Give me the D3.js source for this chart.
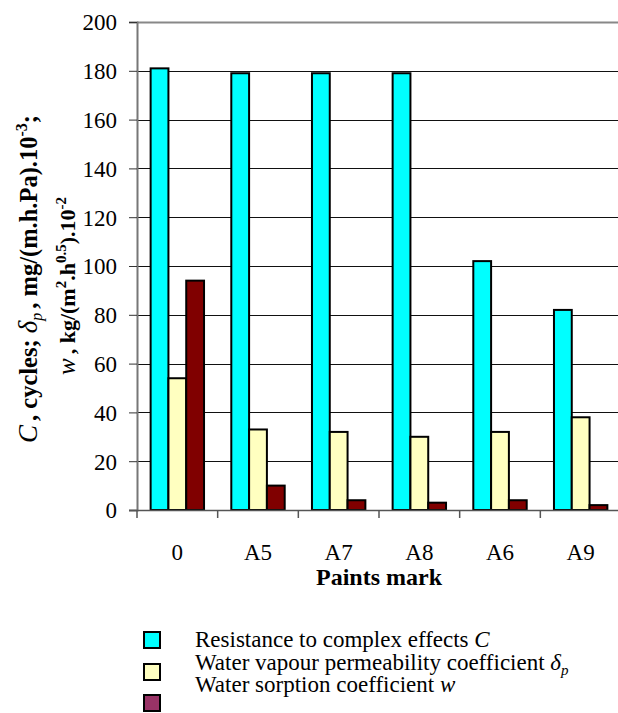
<!DOCTYPE html>
<html>
<head>
<meta charset="utf-8">
<script src="https://cdn.jsdelivr.net/npm/d3@7"></script>
<style>
  body { margin: 0; background: #fff; }
  text { font-family: "Liberation Serif", "Times New Roman", serif; fill: #000; }
</style>
</head>
<body>
<div id="chart"></div>
<script>
var categories = ["0", "A5", "A7", "A8", "A6", "A9"];
var resistance = [181, 179, 179, 179, 102, 82];
var permeability = [54, 33, 32, 30, 32, 38];
var sorption = [94, 10, 4, 3, 4, 2];
var yTicks = [0, 20, 40, 60, 80, 100, 120, 140, 160, 180, 200];
var seriesNames = ["Resistance to complex effects ", "Water vapour permeability coefficient ", "Water sorption coefficient "];

var width = 618;
var height = 713;
var plotLeft = 137, plotRight = 621, plotTop = 22, plotBottom = 510;

var barColors = ["#00ffff", "#ffffc0", "#800000"];
var legendColors = ["#00ffff", "#ffffc0", "#993366"];

var svg = d3.select("#chart")
  .append("svg")
  .attr("width", width)
  .attr("height", height);

var x0 = d3.scaleBand()
  .domain(categories)
  .range([plotLeft, plotRight])
  .paddingInner(0.338)
  .paddingOuter(0.169);

var x1 = d3.scaleBand()
  .domain([0, 1, 2])
  .range([0, x0.bandwidth()]);

var y = d3.scaleLinear()
  .domain([0, 200])
  .range([plotBottom, plotTop]);

// grid lines
svg.append("g")
  .selectAll("line")
  .data(yTicks.filter(d => d > 0))
  .enter()
  .append("line")
  .attr("x1", plotLeft)
  .attr("x2", plotRight)
  .attr("y1", d => Math.round(y(d)) + 0.5)
  .attr("y2", d => Math.round(y(d)) + 0.5)
  .attr("stroke", d => d == 200 ? "#888" : "#111")
  .attr("stroke-width", d => d == 200 ? 2 : 1);

// bars
var rows = categories.map((c, i) => ({cat: c, vals: [resistance[i], permeability[i], sorption[i]]}));

var groups = svg.append("g")
  .selectAll("g")
  .data(rows)
  .enter()
  .append("g")
  .attr("transform", d => "translate(" + x0(d.cat) + ",0)");

groups.selectAll("rect")
  .data(d => d.vals.map((v, k) => ({k: k, v: v})))
  .enter()
  .append("rect")
  .attr("x", d => x1(d.k))
  .attr("y", d => y(d.v))
  .attr("width", x1.bandwidth())
  .attr("height", d => y(0) - y(d.v))
  .attr("fill", d => barColors[d.k])
  .attr("stroke", "#000")
  .attr("stroke-width", 2);

// y axis
var yAxis = svg.append("g")
  .attr("transform", "translate(" + plotLeft + ",0)")
  .call(d3.axisLeft(y).tickValues(yTicks).tickSize(8).tickPadding(12));
yAxis.select(".domain").attr("stroke", "#777").attr("stroke-width", 2);
yAxis.selectAll(".tick line").attr("stroke", "#333");
yAxis.selectAll("text")
  .attr("dy", "0.34em")
  .style("font-family", "Liberation Serif")
  .style("font-size", "23px");

// x axis
svg.append("line")
  .attr("x1", plotLeft - 8)
  .attr("x2", plotRight)
  .attr("y1", plotBottom + 0.5)
  .attr("y2", plotBottom + 0.5)
  .attr("stroke", "#555")
  .attr("stroke-width", 1.5);

var step = x0.step();
svg.append("g")
  .selectAll("line")
  .data(d3.range(categories.length + 1))
  .enter()
  .append("line")
  .attr("x1", i => plotLeft + i * step)
  .attr("x2", i => plotLeft + i * step)
  .attr("y1", plotBottom)
  .attr("y2", plotBottom + 8)
  .attr("stroke", "#555")
  .attr("stroke-width", 1.5);

svg.append("g")
  .selectAll("text")
  .data(categories)
  .enter()
  .append("text")
  .attr("x", d => x0(d) + x0.bandwidth() / 2)
  .attr("y", 560)
  .attr("text-anchor", "middle")
  .style("font-size", "23px")
  .text(d => d);

svg.append("text")
  .attr("x", (plotLeft + plotRight) / 2)
  .attr("y", 585)
  .attr("text-anchor", "middle")
  .style("font-size", "24px")
  .style("font-weight", "bold")
  .text("Paints mark");

// y title, two lines
var t1 = svg.append("text")
  .attr("transform", "translate(37,443) rotate(-90)")
  .attr("text-anchor", "start")
  .style("font-size", "24.5px")
  .style("font-weight", "bold");
t1.append("tspan").style("font-style", "italic").style("font-weight", "normal").style("font-size", "27px").text("C");
t1.append("tspan").attr("dx", 4).text(", cycles; ");
t1.append("tspan").style("font-style", "italic").style("font-weight", "normal").style("font-size", "27px").text("δ");
t1.append("tspan").style("font-style", "italic").style("font-weight", "normal").style("font-size", "16px").attr("dy", 5).text("p");
t1.append("tspan").attr("dy", -5).attr("dx", 4).text(", mg/(m.h.Pa).10");
t1.append("tspan").style("font-size", "16px").attr("dy", -10).text("-3");
t1.append("tspan").attr("dy", 10).text(";");

var t2 = svg.append("text")
  .attr("transform", "translate(75,375) rotate(-90)")
  .attr("text-anchor", "start")
  .style("font-size", "22px")
  .style("font-weight", "bold");
t2.append("tspan").style("font-style", "italic").style("font-weight", "normal").style("font-size", "25px").text("w");
t2.append("tspan").attr("dx", 4).text(", kg/(m");
t2.append("tspan").style("font-size", "15px").attr("dy", -9).text("2");
t2.append("tspan").attr("dy", 9).text(".h");
t2.append("tspan").style("font-size", "15px").attr("dy", -9).text("0.5");
t2.append("tspan").attr("dy", 9).text(").10");
t2.append("tspan").style("font-size", "15px").attr("dy", -9).text("-2");

// legend
var swatchY = [632, 664, 695];
var textY = [647, 670, 692];
var legend = svg.append("g");
legend.selectAll("rect")
  .data(legendColors)
  .enter()
  .append("rect")
  .attr("x", 144)
  .attr("y", (d, i) => swatchY[i])
  .attr("width", 16)
  .attr("height", 16)
  .attr("fill", d => d)
  .attr("stroke", "#000")
  .attr("stroke-width", 2);

var lt = legend.selectAll("text")
  .data(seriesNames)
  .enter()
  .append("text")
  .attr("x", 195)
  .attr("y", (d, i) => textY[i])
  .style("font-size", "23px")
  .text(d => d);
lt.filter((d, i) => i == 0).append("tspan").style("font-style", "italic").text("C");
var lt2 = lt.filter((d, i) => i == 1);
lt2.append("tspan").style("font-style", "italic").text("δ");
lt2.append("tspan").style("font-style", "italic").style("font-size", "15px").attr("dy", 5).text("p");
lt.filter((d, i) => i == 2).append("tspan").style("font-style", "italic").text("w");
</script>
</body>
</html>
